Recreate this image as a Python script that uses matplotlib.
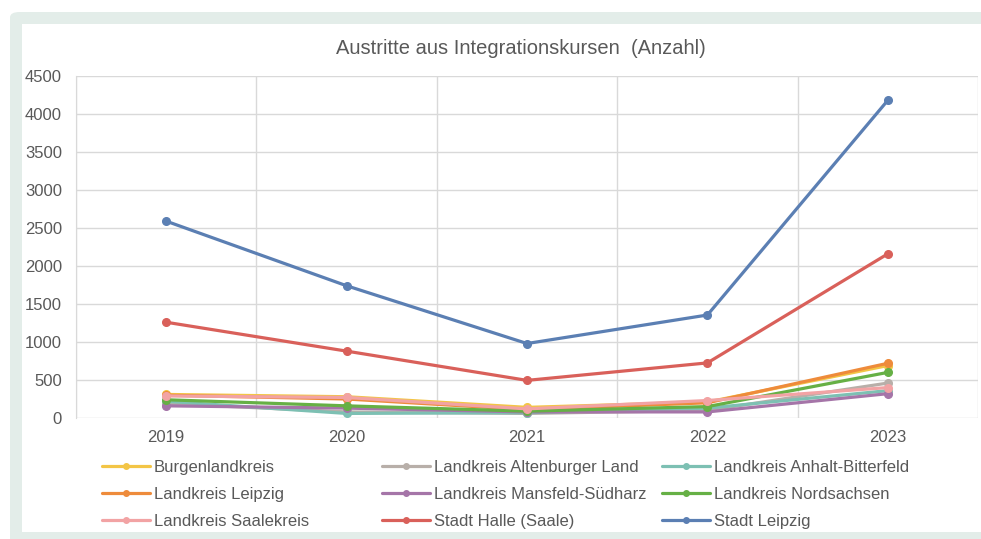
import numpy as np
import matplotlib
matplotlib.use("Agg")
import matplotlib.pyplot as plt
from matplotlib.patches import FancyBboxPatch, Rectangle

plt.rcParams['font.family'] = ['Liberation Sans', 'DejaVu Sans']

years = ['2019', '2020', '2021', '2022', '2023']

burgenlandkreis = [310, 280, 140, 210, 690]
altenburger_land = [190, 80, 60, 100, 460]
anhalt_bitterfeld = [220, 60, 70, 130, 360]
lk_leipzig = [300, 250, 110, 200, 720]
mansfeld_suedharz = [160, 130, 80, 80, 320]
nordsachsen = [240, 160, 90, 150, 600]
saalekreis = [290, 270, 120, 230, 400]
stadt_halle = [1260, 880, 495, 725, 2160]
stadt_leipzig = [2590, 1740, 980, 1355, 4180]

names = ['Burgenlandkreis', 'Landkreis Altenburger Land', 'Landkreis Anhalt-Bitterfeld',
         'Landkreis Leipzig', 'Landkreis Mansfeld-Südharz', 'Landkreis Nordsachsen',
         'Landkreis Saalekreis', 'Stadt Halle (Saale)', 'Stadt Leipzig']
series = [burgenlandkreis, altenburger_land, anhalt_bitterfeld, lk_leipzig,
          mansfeld_suedharz, nordsachsen, saalekreis, stadt_halle, stadt_leipzig]
colors = ['#f3c546', '#b8afa9', '#7dc0b3', '#ee8b3b', '#a575a8',
          '#66b045', '#f2a3a4', '#d9605a', '#5b7fb3']

W, H = 981, 539
fig = plt.figure(figsize=(W / 100, H / 100), dpi=100)
fig.patch.set_facecolor('white')

# light frame around the chart
frame = FancyBboxPatch((10 / W, -0.05), 1.1, (H - 12) / H + 0.05,
                       boxstyle="round,pad=0,rounding_size=0.01",
                       transform=fig.transFigure, facecolor='#e3ede9',
                       edgecolor='none', zorder=-2)
fig.patches.append(frame)
inner = Rectangle((22 / W, (H - 532) / H), (W - 22) / W, (532 - 24) / H,
                  transform=fig.transFigure, facecolor='white',
                  edgecolor='none', zorder=-1)
fig.patches.append(inner)

ax = fig.add_axes([76 / W, 1 - 418 / H, (978 - 76) / W, (418 - 76) / H])
ax.set_facecolor('none')
ax.set_zorder(1)

x = np.arange(len(years))
lines = []
for name, vals, c in zip(names, series, colors):
    ln, = ax.plot(x, vals, color=c, lw=2.3, marker='o', ms=5.5,
                  label=name, solid_capstyle='round')
    lines.append(ln)

ax.set_xlim(-0.5, len(years) - 0.5)
ax.set_ylim(0, 4500)
ax.set_yticks(np.arange(0, 4501, 500))
ax.set_xticks(x)
ax.set_xticklabels(years)
ax.set_xticks(np.arange(-0.5, len(years), 1), minor=True)
ax.grid(axis='y', which='major', color='#d9d9d9', lw=1)
ax.grid(axis='x', which='minor', color='#d9d9d9', lw=1)
ax.set_axisbelow(True)
ax.tick_params(which='both', length=0, colors='#595959', labelsize=12)
ax.tick_params(axis='x', pad=9)
ax.tick_params(axis='y', pad=10)
for s in ['top', 'right', 'bottom']:
    ax.spines[s].set_visible(False)
ax.spines['left'].set_color('#d9d9d9')

fig.text(521 / W, 1 - 48 / H, 'Austritte aus Integrationskursen  (Anzahl)',
         ha='center', va='center', fontsize=14.5, color='#595959')

# legend: three columns, row-major order as in the reference
col_x = [102, 382, 662]
for k in range(3):
    idx = [k, k + 3, k + 6]
    leg = fig.legend([lines[i] for i in idx], [names[i] for i in idx],
                     loc='upper left', bbox_to_anchor=(col_x[k] / W, 1 - 460 / H),
                     frameon=False, fontsize=12, handlelength=2.9,
                     handletextpad=0.2, labelspacing=0.72,
                     borderaxespad=0, borderpad=0)
    for t in leg.get_texts():
        t.set_color('#595959')
    for h in leg.legend_handles:
        h.set_markersize(4)
        h.set_linewidth(2.3)

fig.savefig('out.png', dpi=100, facecolor=fig.get_facecolor())
